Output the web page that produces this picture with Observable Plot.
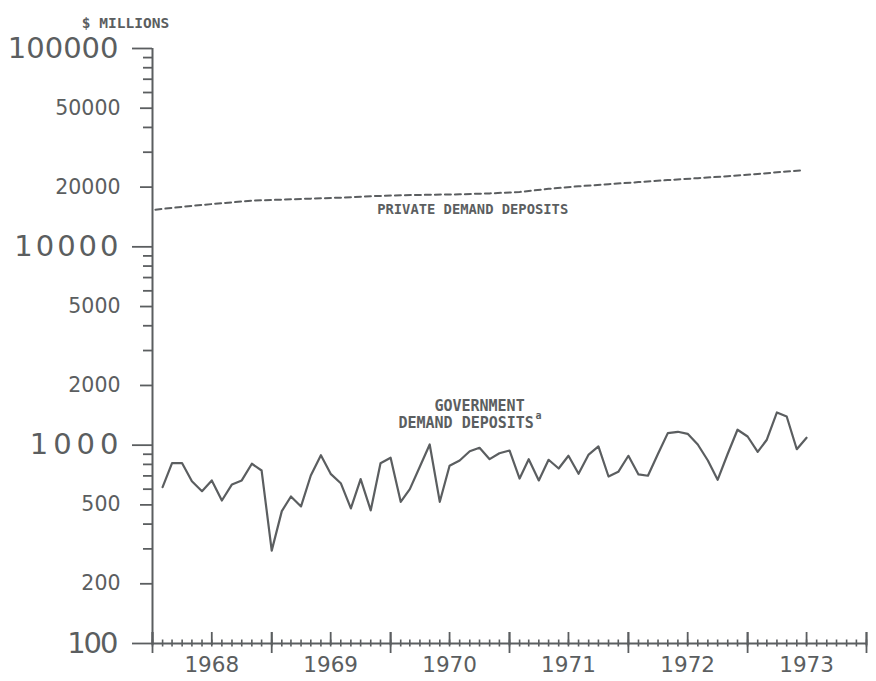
<!DOCTYPE html>
<html>
<head>
<meta charset="utf-8">
<script src="https://cdn.jsdelivr.net/npm/d3@7"></script>
<script src="https://cdn.jsdelivr.net/npm/@observablehq/plot@0.6"></script>
<style>
  html, body { margin: 0; padding: 0; background: #ffffff; }
  #chart svg { display: block; }
</style>
</head>
<body>
<div id="chart"></div>
<script>
// ---- data ----
const govStart = "1968-02-01";   // monthly, Feb 1968 .. Jul 1973
const govValues = [
  614, 811, 811, 658, 586, 664, 526, 634, 664, 806,
  745, 294, 465, 551, 491, 703, 890, 717, 643, 480,
  674, 469, 811, 864, 518, 600, 781, 1008, 518, 787,
  837, 932, 970, 850, 911, 940, 679, 850, 664, 844,
  763, 884, 717, 897, 985, 695, 734, 884, 712, 701,
  905, 1150, 1168, 1141, 1008, 837, 669, 905, 1196, 1106,
  926, 1065, 1462, 1395, 954, 1090
];
const privateDates = [
  "1968-01-10", "1968-05-01", "1968-08-01", "1968-11-01",
  "1969-02-01", "1969-05-01", "1969-08-01", "1969-11-01",
  "1970-02-01", "1970-05-01", "1970-08-01", "1970-11-01",
  "1971-02-01", "1971-05-01", "1971-08-01", "1971-11-01",
  "1972-02-01", "1972-05-01", "1972-08-01", "1972-11-01",
  "1973-02-01", "1973-05-01", "1973-06-20"
];
const privateValues = [
  15400, 16100, 16600, 17100,
  17300, 17500, 17700, 18000,
  18200, 18300, 18400, 18600,
  18900, 19600, 20200, 20700,
  21200, 21700, 22200, 22700,
  23300, 24000, 24300
];
const yDecadeTicks = [100, 1000, 10000, 100000];
const yMidTicks = [200, 500, 2000, 5000, 20000, 50000];
const yMinorTicks = [300, 400, 600, 700, 800, 900, 3000, 4000, 6000, 7000, 8000, 9000,
                     30000, 40000, 60000, 70000, 80000, 90000];
const yearLabels = ["1968", "1969", "1970", "1971", "1972", "1973"];
const xDomain = ["1968-01-01", "1974-01-01"];
const unitLabel = "$ MILLIONS";
const seriesLabels = [
  {date: "1970-09-10", value: 15440, text: "PRIVATE DEMAND DEPOSITS", size: 13.8},
  {date: "1970-10-01", value: 1580, text: "GOVERNMENT", size: 15},
  {date: "1970-08-21", value: 1287, text: "DEMAND DEPOSITS", size: 15}
];
const footnoteMark = {date: "1971-03-22", value: 1400, text: "a"};
// extra letter spacing of the hand-plotted decade labels (px)
const decadeSpacing = {"100": -2, "1000": 5, "10000": 3, "100000": 0};

// ---- build tables ----
const parse = s => new Date(s + "T00:00:00Z");
const gov = govValues.map((v, i) => ({date: d3.utcMonth.offset(parse(govStart), i), value: v}));
const priv = privateValues.map((v, i) => ({date: parse(privateDates[i]), value: v}));
const x0 = parse(xDomain[0]), x1 = parse(xDomain[1]);
const monthTicks = d3.utcMonth.range(x0, d3.utcDay.offset(x1, 1));
const halfTicks = d3.utcMonth.every(6).range(x0, d3.utcDay.offset(x1, 1));
const yearTicks = d3.utcYear.range(x0, d3.utcDay.offset(x1, 1));
const yearMid = yearLabels.map(y => parse(y + "-07-01"));

const ink = "#5b5e60";
const mono = "DejaVu Sans Mono";

const chart = Plot.plot({
  width: 876,
  height: 681,
  marginTop: 48,
  marginBottom: 38,
  marginLeft: 152,
  marginRight: 10,
  style: {fontFamily: "DejaVu Sans", color: ink, background: "#ffffff"},
  x: {type: "utc", domain: [x0, x1]},
  y: {type: "log", domain: [100, 100000]},
  marks: [
    // axis lines
    Plot.ruleX([x0], {stroke: ink, strokeWidth: 2}),
    Plot.ruleY([100], {stroke: ink, strokeWidth: 2}),
    // y axis
    Plot.axisY(yMinorTicks, {anchor: "left", tickSize: 9, strokeWidth: 1.8, fill: "none", label: null}),
    Plot.axisY(yMidTicks, {anchor: "left", tickSize: 12, strokeWidth: 1.8, tickPadding: 20,
      fontSize: 20.5, tickFormat: d => String(d), label: null}),
    Plot.axisY(yDecadeTicks, {anchor: "left", tickSize: 20, strokeWidth: 1.8, tickPadding: 14,
      fontSize: 29, tickFormat: d => String(d), label: null, ariaLabel: "decade labels"}),
    // x axis
    Plot.axisX(monthTicks, {anchor: "bottom", tickSize: 7, dy: -3.5, strokeWidth: 1.6, fill: "none", label: null}),
    Plot.axisX(halfTicks, {anchor: "bottom", tickSize: 13, dy: -11, strokeWidth: 1.8, fill: "none", label: null}),
    Plot.axisX(yearTicks, {anchor: "bottom", tickSize: 21, dy: -11, strokeWidth: 1.8, fill: "none", label: null}),
    Plot.axisX(yearMid, {anchor: "bottom", tickSize: 0, tickPadding: 13, fontSize: 21.5,
      tickFormat: d3.utcFormat("%Y"), label: null}),
    // series
    Plot.line(priv, {x: "date", y: "value", stroke: ink, strokeWidth: 2, strokeDasharray: "6,4"}),
    Plot.line(gov, {x: "date", y: "value", stroke: ink, strokeWidth: 2.2, strokeLinejoin: "round"}),
    // labels
    Plot.text(seriesLabels, {x: d => parse(d.date), y: "value", text: "text", fontSize: d => d.size,
      fontFamily: mono, fontWeight: "bold", fill: ink, textAnchor: "middle"}),
    Plot.text([footnoteMark], {x: d => parse(d.date), y: "value", text: "text", fontSize: 10,
      fontFamily: mono, fontWeight: "bold", fill: ink, textAnchor: "start"}),
    Plot.text([unitLabel], {frameAnchor: "top-left", dx: -27, dy: -31, text: d => d, fontSize: 14.5,
      fontFamily: mono, fontWeight: "bold", fill: ink, textAnchor: "middle"})
  ]
});
// letter spacing of the decade labels, as in the plotted original
d3.select(chart).selectAll("text").each(function() {
  const t = this.textContent;
  if (this.getAttribute("font-size") === "29" || (this.parentNode && this.parentNode.getAttribute("font-size") === "29")) {
    const ls = decadeSpacing[t];
    if (ls) {
      d3.select(this).style("letter-spacing", ls + "px").attr("dx", ls);
    }
  }
});
document.getElementById("chart").appendChild(chart);
</script>
</body>
</html>
